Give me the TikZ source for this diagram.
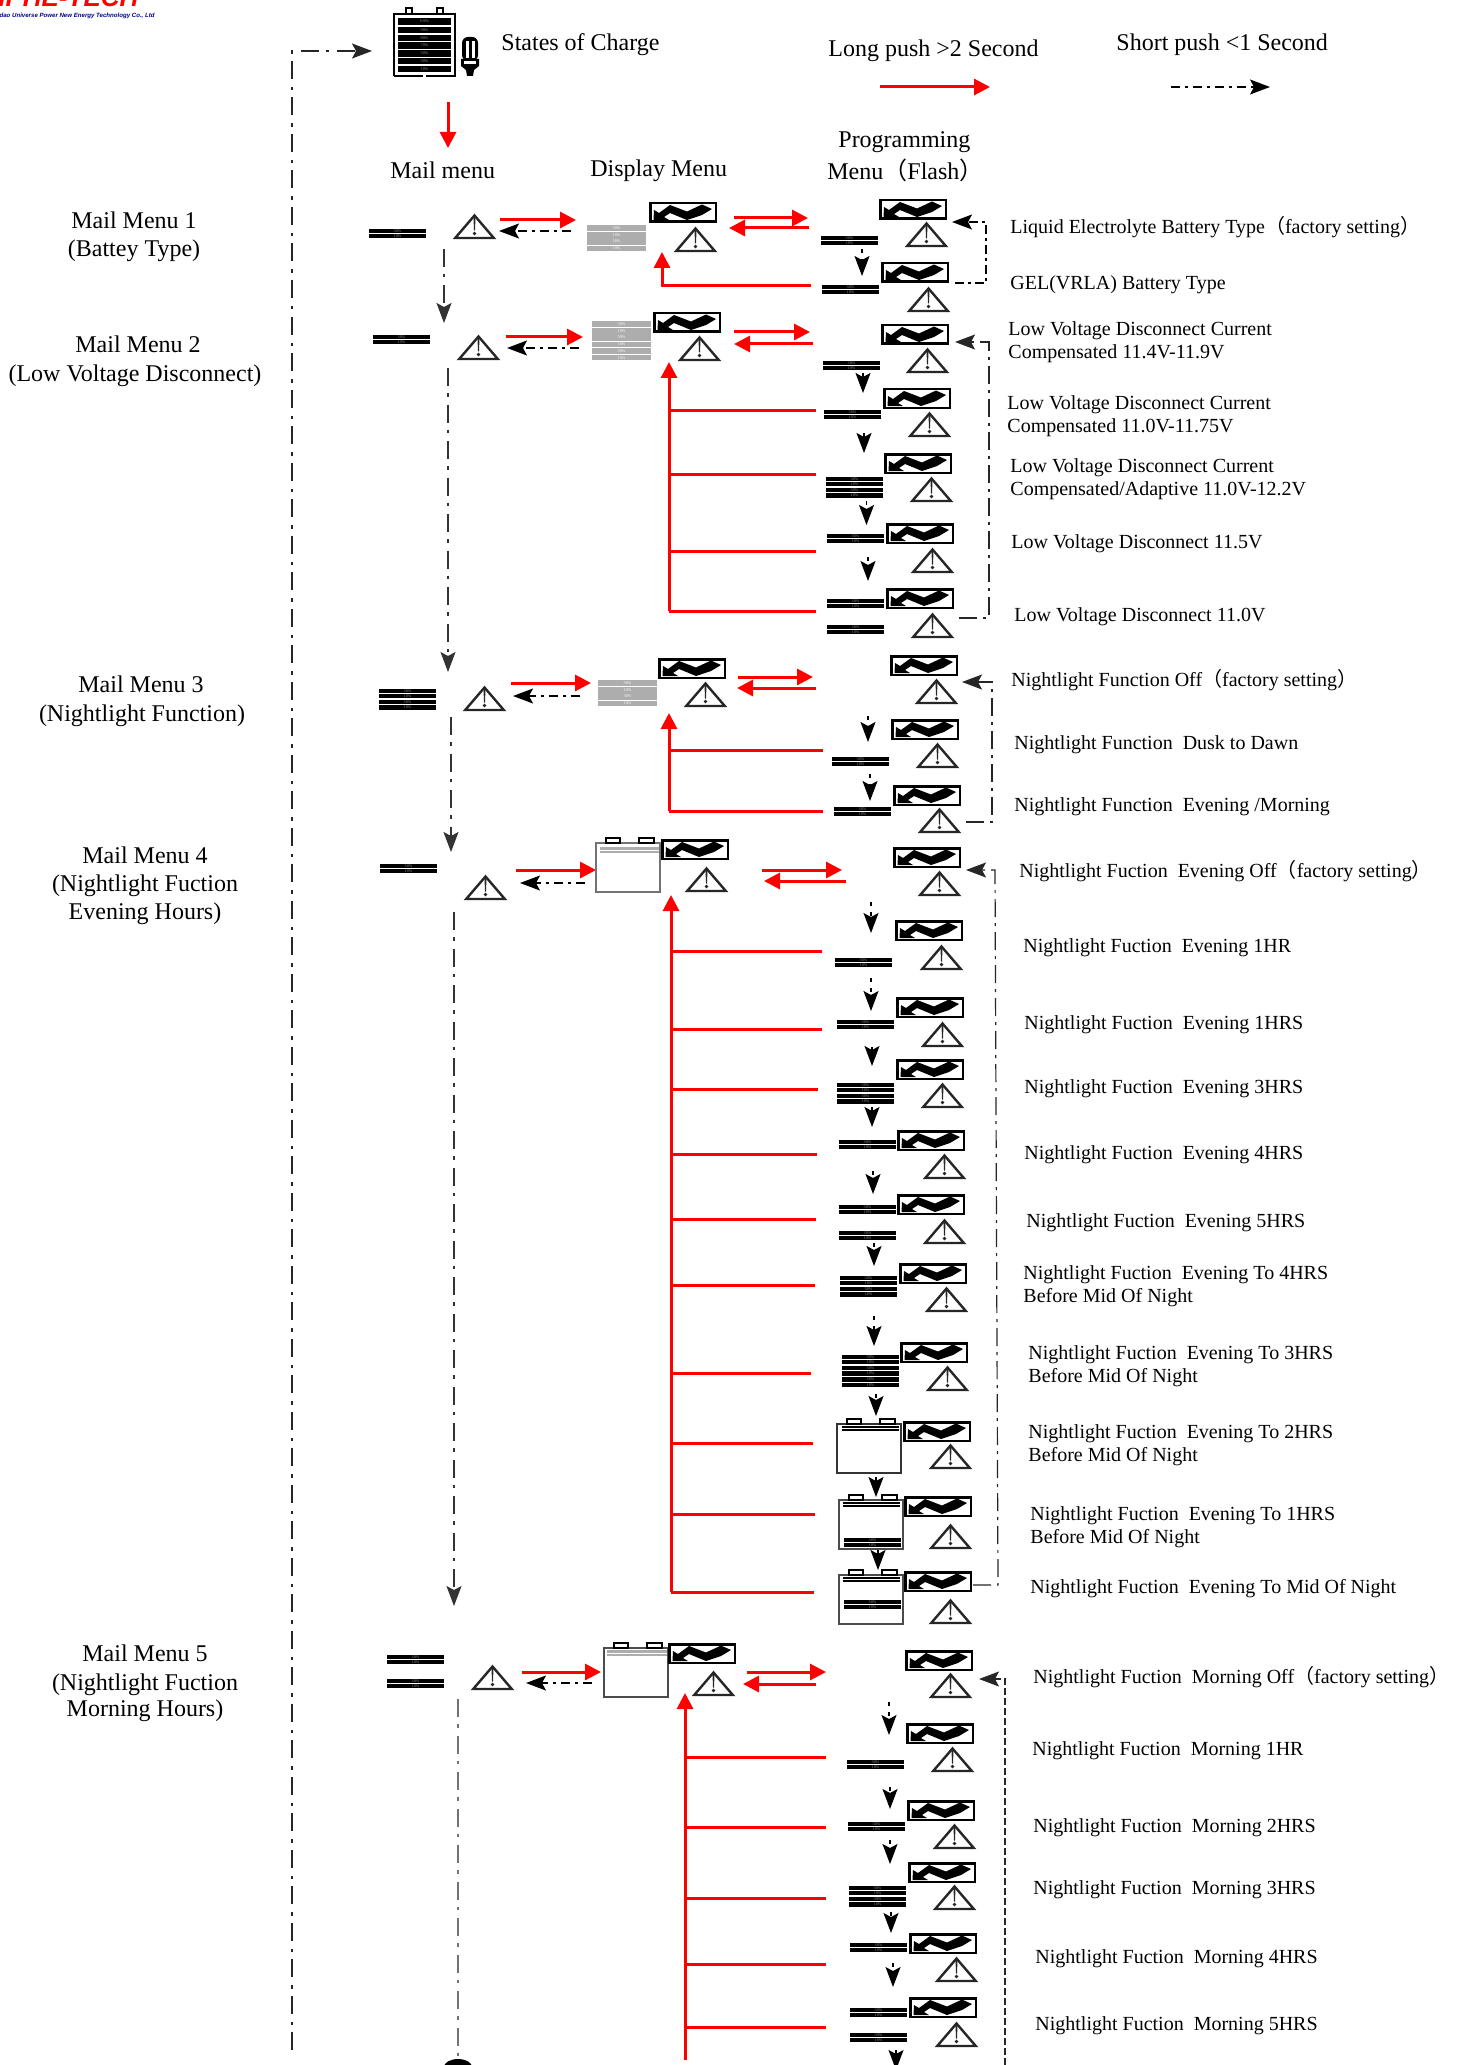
\documentclass[tikz,border=0pt]{standalone}
\usepackage{fontspec}
\setmainfont{Liberation Serif}
\newfontfamily\cjk{Noto Sans CJK SC}
\newfontfamily\lsans{Liberation Sans}
\usetikzlibrary{arrows.meta}
\newcounter{cn}
\newcommand\lk[3]{\stepcounter{cn}\coordinate (a\thecn) at (#2);\coordinate (b\thecn) at (#3);\draw[#1] (a\thecn) -- (b\thecn);}
\newcommand\lkk[4]{\stepcounter{cn}\coordinate (a\thecn) at (#2);\coordinate (m\thecn) at (#3);\coordinate (b\thecn) at (#4);\draw[#1] (a\thecn) -- (m\thecn) -- (b\thecn);}
\newcommand\lkkk[5]{\stepcounter{cn}\coordinate (a\thecn) at (#2);\coordinate (m\thecn) at (#3);\coordinate (n\thecn) at (#4);\coordinate (b\thecn) at (#5);\draw[#1] (a\thecn) -- (m\thecn) -- (n\thecn) -- (b\thecn);}
\newcommand\mbars[3]{\begin{scope}[shift={(#1,#2)}]
 \foreach \i in {1,...,#3}{\pgfmathsetmacro\yy{(\i-1)*11.2}
  \fill[black] (0,\yy) rectangle (57,\yy+4.2);\fill[black] (0,\yy+5.2) rectangle (57,\yy+9.4);
  \node[tinyt] at (28.5,\yy+2.1) {30\%};\node[tinyt] at (28.5,\yy+7.3) {10\%};}
 \end{scope}}
\newcommand\gbars[3]{\begin{scope}[shift={(#1,#2)}]
 \foreach \i in {1,...,#3}{\pgfmathsetmacro\yy{(\i-1)*13.4}
  \fill[gbar] (0,\yy) rectangle (59,\yy+6.2);\fill[gbar] (0,\yy+7.4) rectangle (59,\yy+12.6);
  \node[tinyw] at (29.5,\yy+3.1) {30\%};\node[tinyw] at (29.5,\yy+10) {10\%};}
 \end{scope}}
\newcommand\wave[3]{\node[wavebox] (#1) at (#2+34,#3+10.5) {};
 \begin{scope}[shift={(#2,#3)}]
 \fill[black] (4.5,18) -- (5,8) -- (10,11) -- (21,3) -- (38,9.5) -- (53,2.5) -- (63,7) -- (53,13) -- (38,18) -- (21,11) -- (15,15) -- (20,18) -- cycle;
 \end{scope}}
\newcommand\warn[2]{\begin{scope}[shift={(#1,#2)}]
 \draw[black!85,line width=1.2pt,fill=white] (20.5,1.5) -- (1.2,24) -- (39.8,24) -- cycle;
 \fill[black!85] (19.5,3) -- (21.5,3) -- (21,16.5) -- (20,16.5) -- cycle;
 \fill[black!85] (20.5,19.5) circle (1.9);
 \end{scope}}
\newcommand\batt[3]{\begin{scope}[shift={(#1,#2)}]
 \draw[#3,line width=.6pt,fill=white] (0,0) rectangle (64,49);
 \draw[black,line width=.6pt,fill=white] (10,-5) rectangle (24,0);
 \draw[black,line width=.6pt,fill=white] (43,-5) rectangle (58,0);
 \end{scope}}
\tikzset{
 bh/.tip={Stealth[length=10pt,width=7.5pt,inset=2pt]},
 tinyt/.style={text=black!45,font=\fontsize{2.1}{2.1}\selectfont,inner sep=0pt},
 tinyw/.style={text=white,font=\fontsize{2.1}{2.1}\selectfont,inner sep=0pt},
 gbar/.style={fill=black!32},
 wavebox/.style={draw=black,line width=1.25pt,minimum width=32.75pt,minimum height=9.25pt,inner sep=0pt},
 hd/.style={font=\fontsize{12}{14}\selectfont,inner sep=0pt},
 hdc/.style={font=\fontsize{12}{14}\selectfont,inner sep=0pt,align=center},
 rlab/.style={font=\fontsize{10}{11.5}\selectfont,inner sep=0pt,anchor=west,align=left,yshift=-1.3pt},
 ra/.style={draw=red,line width=1.5pt,-{Triangle[length=8pt,width=8pt]}},
 rl/.style={draw=red,line width=1.5pt},
 ba/.style={draw=black,line width=.6pt,dash pattern=on 4.5pt off 2.5pt on 1.5pt off 2.5pt,-bh},
 bs/.style={draw=black,line width=.6pt,dash pattern=on 2pt off 3pt,-bh},
 bv/.style={draw=black!80,line width=.6pt,dash pattern=on 9pt off 3.5pt on 1.75pt off 4pt,-bh},
 bl/.style={draw=black!85,line width=.6pt,dash pattern=on 9pt off 3.5pt on 1.75pt off 4pt},
 bb/.style={bl,dash pattern=on 9pt off 3pt on 1.5pt off 3pt,-bh},
}
\begin{document}
\begin{tikzpicture}[x=0.5pt,y=-0.5pt]
\useasboundingbox (0,0) rectangle (1456,2065);
% logo
\begin{scope}
\clip (0,0) rectangle (200,30);
\node[anchor=base west,inner sep=0pt,text=red,font=\lsans\bfseries\itshape\fontsize{13}{13}\selectfont] (logo) at (-2,7) {IPHE-TECH};
\node[anchor=base east,inner sep=0pt,text=blue!55!black,font=\lsans\bfseries\itshape\fontsize{3.05}{4}\selectfont] (logosub) at (155,18) {Qingdao Universe Power New Energy Technology Co., Ltd};
\end{scope}
% top battery and bulb
\begin{scope}[shift={(394,14)}]
\draw[black,line width=.8pt] (12,-6) rectangle (18,0);
\draw[black,line width=.8pt] (43,-6) rectangle (49,0);
\draw[black,line width=1pt] (0,62) -- (0,0) -- (61,0) -- (61,62) -- (32,62);
\draw[black,line width=1pt] (29,62) -- (0,62);
\foreach \t/\yy/\hh in {100/4/7,90/13/6,80/21/6,70/28/7,50/36/7,30/44/6,10/52/6}{
 \fill[black] (4,\yy) rectangle (57,\yy+\hh);
 \node[tinyt] at (30.5,\yy+\hh/2) {\t\%};}
\end{scope}
\begin{scope}[shift={(461,37)}]
\fill[black,rounded corners=3pt] (1,0) rectangle (17,24);
\fill[white] (5,4) rectangle (7.5,21);
\fill[white] (11,4) rectangle (13.5,21);
\fill[black] (0,22) -- (18,22) -- (18,29) -- (13,33) -- (12,39) -- (6,39) -- (5,33) -- (0,29) -- cycle;
\fill[white] (3,24.5) rectangle (15,27);
\end{scope}
% headings
\node[hd,anchor=west] (soc) at (501,45) {States of Charge};
\node[hd,anchor=west] (lp) at (828,51) {Long push >2 Second};
\node[hd,anchor=west] (sp) at (1116,45) {Short push <1 Second};
\node[hd,anchor=west] (mm) at (390,170) {Mail menu};
\node[hd,anchor=west] (dm) at (590,171) {Display Menu};
\node[hd,anchor=west] (pm1) at (838,142) {Programming};
\node[hd,anchor=west] (pm2) at (827,170) {Menu{\cjk （}Flash{\cjk ）}};
% left labels
\node[hdc] (m1a) at (134,220) {Mail Menu 1};
\node[hdc] (m1b) at (134,251) {(Battey Type)};
\node[hdc] (m2a) at (138,344) {Mail Menu 2};
\node[hdc] (m2b) at (135,376) {(Low Voltage Disconnect)};
\node[hdc] (m3a) at (141,684) {Mail Menu 3};
\node[hdc] (m3b) at (142,716) {(Nightlight Function)};
\node[hdc] (m4a) at (145,855) {Mail Menu 4};
\node[hdc] (m4b) at (145,886) {(Nightlight Fuction};
\node[hdc] (m4c) at (145,914) {Evening Hours)};
\node[hdc] (m5a) at (145,1653) {Mail Menu 5};
\node[hdc] (m5b) at (145,1685) {(Nightlight Fuction};
\node[hdc] (m5c) at (145,1711) {Morning Hours)};
% legend and global
\lk{ra}{880,87}{990,87}
\lk{ba}{1171,87}{1270,87}
\lk{ra}{448,102}{448,148}
\lkk{bl,-bh}{292,2050}{292,51}{372,51}
% Mail menu icons
\mbars{369}{229}{1}\warn{454}{214}
\mbars{373}{335}{1}\warn{458}{335}
\mbars{379}{689}{2}\warn{464}{686}
\mbars{380}{864}{1}\warn{465}{875}
\mbars{387}{1655}{1}\mbars{387}{1679}{1}\warn{472}{1665}
% Mail-menu vertical
\lk{bv}{444,249}{444,323}
\lk{bv}{448,368}{448,672}
\lk{bv}{451,717}{451,852}
\lk{bv}{454,912}{454,1606}
\lk{bl,draw=black!55,line width=.8pt}{458,1699}{458,2060}
\fill[black] (458,2067) ellipse (14 and 8);
% Mail<->Display
\lk{ra}{500,220}{576,220}\lk{ba}{571,231}{499,231}
\lk{ra}{506,337}{583,337}\lk{ba}{579,348}{507,348}
\lk{ra}{511,683}{591,683}\lk{ba}{580,696}{513,696}
\lk{ra}{516,870}{596,870}\lk{ba}{585,883}{520,883}
\lk{ra}{522,1672}{601,1672}\lk{ba}{592,1683}{526,1683}
% Display icons
\gbars{587}{225}{2}\wave{d1}{649}{202}\warn{675}{227}
\gbars{592}{321}{3}\wave{d2}{653}{312}\warn{679}{336}
\gbars{598}{680}{2}\wave{d3}{658}{658}\warn{685}{682}
\batt{596}{843}{black!55}\fill[black!32] (600,847) rectangle (659,849.5);\fill[black!32] (600,850.5) rectangle (659,853);\wave{d4}{661}{839}\warn{686}{867}
\batt{604}{1648}{black!70}\fill[black!32] (607,1650) rectangle (667,1652.5);\fill[black!32] (607,1653.5) rectangle (667,1656);\wave{d5}{668}{1643}\warn{693}{1671}
% Display<->Programming
\lk{ra}{734,218}{808,218}\lk{ra}{809,228}{729,228}
\lk{ra}{734,332}{810,332}\lk{ra}{813,344}{734,344}
\lk{ra}{738,677}{813,677}\lk{ra}{816,688}{737,688}
\lk{ra}{762,870}{842,870}\lk{ra}{846,881}{764,881}
\lk{ra}{747,1672}{826,1672}\lk{ra}{816,1684}{743,1684}
% Program group 1
\wave{p11}{879}{199}\warn{906}{222}\mbars{821}{236}{1}
\lk{bs}{862,249}{862,276}
\wave{p12}{881}{262}\warn{908}{287}\mbars{822}{285}{1}
\lkk{ra}{811,286}{662,286}{662,252}
\lkkk{ba,dash pattern=on 4.5pt off 2pt on 1.5pt off 2pt}{955,283}{986,283}{986,222}{952,222}
\node[rlab,yshift=1.3pt] (t11) at (1010,227) {Liquid Electrolyte Battery Type{\cjk （}factory setting{\cjk ）}};
\node[rlab] (t12) at (1010,282) {GEL(VRLA) Battery Type};
% group 2
\wave{p21}{881}{324}\warn{907}{348}\mbars{823}{361}{1}\lk{bs}{863,373}{863,393}
\wave{p22}{883}{388}\warn{909}{412}\mbars{824}{410}{1}\lk{bs}{864,433}{864,453}
\wave{p23}{884}{453}\warn{911}{477}\mbars{826}{477}{2}\lk{bs}{866.5,501}{866.5,525}
\wave{p24}{886}{523}\warn{912}{548}\mbars{827}{534}{1}\lk{bs}{868,557}{868,581}
\wave{p25}{886}{588}\warn{912}{613}\mbars{827}{599}{1}\mbars{827}{625}{1}
\lk{ra}{669,611}{669,362}
\lk{rl}{816,410}{669,410}\lk{rl}{816,474}{669,474}\lk{rl}{816,551}{669,551}\lk{rl}{816,611}{669,611}
\lkkk{bb}{959,618}{989,618}{989,342}{955,342}
\node[rlab] (t21) at (1008,340) {Low Voltage Disconnect Current\\Compensated 11.4V-11.9V};
\node[rlab] (t22) at (1007,414) {Low Voltage Disconnect Current\\Compensated 11.0V-11.75V};
\node[rlab] (t23) at (1010,477) {Low Voltage Disconnect Current\\Compensated/Adaptive 11.0V-12.2V};
\node[rlab] (t24) at (1011,541) {Low Voltage Disconnect 11.5V};
\node[rlab] (t25) at (1014,614) {Low Voltage Disconnect 11.0V};
% group 3
\wave{p31}{890}{655}\warn{916}{679}
\lk{bs}{868,716}{868,742}
\wave{p32}{891}{719}\warn{917}{743}\mbars{832}{757}{1}
\lk{bs}{870,774}{870,801}
\wave{p33}{893}{785}\warn{919}{808}\mbars{834}{807}{1}
\lk{ra}{669,811}{669,713}
\lk{rl}{823,750}{669,750}\lk{rl}{823,811}{669,811}
\lkkk{bb}{966,822}{992,822}{992,682}{962,682}
\node[rlab,yshift=.6pt] (t31) at (1011,679) {Nightlight Function Off{\cjk （}factory setting{\cjk ）}};
\node[rlab] (t32) at (1014,742) {Nightlight Function\ \ Dusk to Dawn};
\node[rlab] (t33) at (1014,804) {Nightlight Function\ \ Evening /Morning};
% group 4
\wave{p41}{893}{847}\warn{919}{871}\lk{bs}{871,902}{871,933}
\wave{p42}{895}{920}\warn{921}{945}\mbars{835}{958}{1}\lk{bs}{871,978}{871,1011}
\wave{p43}{896}{997}\warn{922}{1022}\mbars{837}{1020}{1}\lk{bs}{872,1047}{872,1066}
\wave{p44}{896}{1059}\warn{922}{1083}\mbars{837}{1083}{2}\lk{bs}{872,1107}{872,1127}
\wave{p45}{897}{1130}\warn{924}{1154}\mbars{839}{1140}{1}\lk{bs}{873,1171}{873,1194}
\wave{p46}{897}{1194}\warn{924}{1219}\mbars{839}{1205}{1}\mbars{839}{1231}{1}\lk{bs}{874,1243}{874,1266}
\wave{p47}{899}{1263}\warn{926}{1287}\mbars{840}{1276}{2}\lk{bs}{874,1316}{874,1346}
\wave{p48}{900}{1342}\warn{927}{1366}\mbars{842}{1355}{3}\lk{bs}{876,1394}{876,1416}
\batt{837}{1424}{black!80}\fill[black] (842,1426) rectangle (899,1428);\fill[black] (842,1429) rectangle (899,1431);
\wave{p49}{903}{1421}\warn{930}{1444}\lk{bs}{876,1477}{876,1497}
\batt{839}{1500}{black!70}\fill[black] (843,1502) rectangle (900,1504);\fill[black] (843,1505) rectangle (900,1507);\mbars{844}{1538}{1}
\wave{p410}{904}{1496}\warn{930}{1524}\lk{bs}{878,1550}{878,1570}
\batt{839}{1575}{black!70}\fill[black] (843,1577) rectangle (900,1579);\fill[black] (843,1580) rectangle (900,1582);\mbars{844}{1600}{1}
\wave{p411}{904}{1571}\warn{930}{1599}
\lk{ra}{671,1592}{671,895}
\lk{rl}{822,951}{671,951}\lk{rl}{822,1029}{671,1029}\lk{rl}{818,1089}{671,1089}\lk{rl}{817,1154}{671,1154}\lk{rl}{816,1219}{671,1219}\lk{rl}{815,1285}{671,1285}\lk{rl}{811,1373}{671,1373}\lk{rl}{813,1443}{671,1443}\lk{rl}{815,1514}{671,1514}\lk{rl}{814,1592}{671,1592}
\lkkk{bb}{973,1585}{998,1585}{995,870}{966,870}
\node[rlab,yshift=.6pt] (t41) at (1019,870) {Nightlight Fuction\ \ Evening Off{\cjk （}factory setting{\cjk ）}};
\node[rlab] (t42) at (1023,945) {Nightlight Fuction\ \ Evening 1HR};
\node[rlab] (t43) at (1024,1022) {Nightlight Fuction\ \ Evening 1HRS};
\node[rlab] (t44) at (1024,1086) {Nightlight Fuction\ \ Evening 3HRS};
\node[rlab] (t45) at (1024,1152) {Nightlight Fuction\ \ Evening 4HRS};
\node[rlab] (t46) at (1026,1220) {Nightlight Fuction\ \ Evening 5HRS};
\node[rlab] (t47) at (1023,1284) {Nightlight Fuction\ \ Evening To 4HRS\\Before Mid Of Night};
\node[rlab] (t48) at (1028,1364) {Nightlight Fuction\ \ Evening To 3HRS\\Before Mid Of Night};
\node[rlab] (t49) at (1028,1443) {Nightlight Fuction\ \ Evening To 2HRS\\Before Mid Of Night};
\node[rlab] (t410) at (1030,1525) {Nightlight Fuction\ \ Evening To 1HRS\\Before Mid Of Night};
\node[rlab] (t411) at (1030,1586) {Nightlight Fuction\ \ Evening To Mid Of Night};
% group 5
\wave{p51}{905}{1650}\warn{930}{1673}\lk{bs}{889,1702}{889,1735}
\wave{p52}{906}{1723}\warn{932}{1747}\mbars{847}{1760}{1}\lk{bs}{890,1787}{890,1809}
\wave{p53}{907}{1800}\warn{934}{1824}\mbars{848}{1822}{1}\lk{bs}{890,1840}{890,1864}
\wave{p54}{908}{1862}\warn{934}{1885}\mbars{849}{1886}{2}\lk{bs}{891,1912}{891,1933}
\wave{p55}{909}{1933}\warn{936}{1957}\mbars{850}{1943}{1}\lk{bs}{893,1963}{893,1987}
\wave{p56}{909}{1997}\warn{936}{2022}\mbars{850}{2008}{1}\mbars{850}{2033}{1}
\lk{bs}{896,2050}{896,2070}
\lk{ra}{685,2060}{685,1693}
\lk{rl}{826,1757}{685,1757}\lk{rl}{826,1827}{685,1827}\lk{rl}{826,1898}{685,1898}\lk{rl}{826,1964}{685,1964}\lk{rl}{826,2027}{685,2027}
\lkk{bl,dash pattern=on 3.5pt off 1.5pt,-bh}{1005,2065}{1005,1679}{979,1679}
\node[rlab,yshift=.6pt] (t51) at (1033,1676) {Nightlight Fuction\ \ Morning Off{\cjk （}factory setting{\cjk ）}};
\node[rlab] (t52) at (1032,1748) {Nightlight Fuction\ \ Morning 1HR};
\node[rlab] (t53) at (1033,1825) {Nightlight Fuction\ \ Morning 2HRS};
\node[rlab] (t54) at (1033,1887) {Nightlight Fuction\ \ Morning 3HRS};
\node[rlab] (t55) at (1035,1956) {Nightlight Fuction\ \ Morning 4HRS};
\node[rlab] (t56) at (1035,2023) {Nightlight Fuction\ \ Morning 5HRS};
\end{tikzpicture}
\end{document}
